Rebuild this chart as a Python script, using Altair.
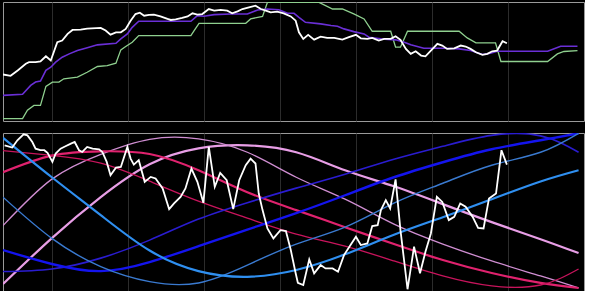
import altair as alt
import pandas as pd

# ---------------- top panel (price + two indicator lines) ----------------
price_t = [0, 1.4, 2.7, 4.2, 4.8, 6.0, 6.9, 7.9, 8.8, 10.0, 10.9, 11.9, 12.8, 14.3, 15.5, 18.0, 18.9,
           19.8, 20.8, 21.7, 22.6, 23.5, 24.4, 25.2, 26.0, 26.9, 27.8, 29.0, 30.3, 30.9, 31.8, 33.0,
           34.0, 34.9, 35.8, 36.7, 37.9, 38.9, 40.1, 41.3, 42.2, 43.2, 44.1, 45.3, 46.5, 47.5, 48.4,
           49.3, 50.5, 51.7, 53.0, 53.9, 54.5, 55.3, 56.2, 57.3, 58.5, 59.7, 61.0, 62.5, 63.7, 65.0,
           65.9, 67.1, 68.0, 69.2, 70.2, 71.4, 72.3, 73.2, 74.2, 75.1, 76.0, 77.0, 77.8, 78.8, 80.0,
           80.9, 81.8, 83.1, 84.3, 85.2, 86.1, 87.1, 88.3, 89.2, 90.1, 91.0, 92.0, 92.8]
price_v = [39.1, 38.0, 42.5, 48.1, 49.4, 49.4, 50.0, 54.4, 50.8, 66.2, 67.6, 73.2, 76.5, 76.8, 77.6, 78.2,
           76.0, 72.6, 74.5, 74.5, 77.4, 84.3, 89.9, 91.0, 88.5, 89.1, 89.4, 87.9, 85.8, 84.9, 85.4,
           86.6, 87.9, 90.5, 89.4, 89.9, 94.1, 92.7, 93.3, 92.7, 90.5, 92.1, 94.1, 95.5, 96.9, 94.1,
           92.7, 91.3, 91.9, 90.5, 87.9, 84.3, 74.5, 69.0, 72.4, 68.4, 70.9, 69.8, 69.8, 68.4, 70.4,
           72.4, 69.5, 69.0, 69.8, 67.6, 69.0, 69.0, 71.2, 68.2, 60.6, 56.4, 58.6, 55.0, 54.4, 59.2,
           64.8, 63.4, 60.6, 61.1, 63.4, 62.6, 60.6, 57.8, 55.6, 56.4, 58.6, 59.2, 67.0, 65.3]

base_t = [0, 3.6, 5.1, 6.0, 6.9, 7.9, 8.8, 9.7, 10.9, 12.2, 13.7, 15.2, 17.4, 20.8, 21.7, 22.9, 23.8,
          25.0, 34.6, 35.8, 37.0, 38.9, 41.9, 45.0, 46.9, 48.7, 50.8, 52.4, 53.6, 54.5, 55.7, 58.5,
          60.4, 61.6, 62.8, 64.6, 66.5, 67.4, 69.6, 72.3, 73.9, 75.1, 77.5, 81.2, 84.0, 86.1, 88.3,
          89.8, 91.0, 100.3, 102.7, 105.8]
base_v = [21.5, 22.4, 29.9, 32.7, 33.5, 42.5, 45.2, 49.4, 53.6, 56.4, 59.2, 61.1, 64.0, 65.3, 69.0,
          73.2, 78.7, 83.8, 83.8, 88.5, 88.0, 89.4, 89.9, 89.9, 93.3, 94.1, 93.5, 90.5, 90.5, 87.0,
          82.9, 81.6, 80.2, 79.6, 77.4, 75.1, 73.2, 70.4, 69.0, 68.2, 66.2, 64.0, 61.1, 61.1, 60.6,
          59.2, 55.9, 56.9, 58.6, 58.6, 62.8, 62.8]

span_t = [0, 3.6, 4.5, 5.7, 6.9, 7.9, 9.1, 10.3, 11.2, 13.7, 15.5, 17.4, 19.2, 20.8, 21.7, 22.6,
          23.8, 25.0, 34.6, 35.2, 36.1, 44.7, 45.6, 47.8, 48.7, 58.2, 60.7, 62.5, 64.6, 66.5, 68.0,
          71.4, 72.3, 73.2, 74.5, 84.0, 85.5, 87.1, 90.7, 91.7, 100.3, 102.1, 103.3, 105.8]
span_v = [2.0, 2.0, 9.0, 13.1, 13.1, 29.1, 32.7, 32.7, 35.5, 36.9, 41.0, 45.8, 46.6, 48.6, 59.8, 62.6,
          66.2, 71.8, 71.8, 76.0, 82.1, 82.1, 85.8, 87.9, 99.7, 99.7, 94.1, 94.1, 90.0, 85.8, 75.4,
          75.4, 62.0, 62.0, 75.4, 75.4, 69.8, 65.7, 65.7, 50.0, 50.0, 56.4, 58.4, 59.2]

# ---------------- bottom panel (oscillator + cycle waves) ----------------
osc_t = [0.3, 1.7, 2.65, 3.8, 4.5, 5.4, 6.0, 6.9, 7.6, 8.2, 9.1, 9.7, 10.6, 11.5, 12.5, 13.2, 14.0,
         14.6, 15.5, 16.5, 17.7, 18.3, 19.1, 19.8, 20.8, 21.7, 22.3, 22.9, 23.5, 24.1, 25.0, 26.1,
         27.2, 28.1, 29.4, 30.6, 31.5, 32.7, 33.6, 34.7, 35.8, 36.9, 37.9, 39.0, 40.0, 41.2, 42.4,
         43.5, 44.7, 45.6, 46.5, 47.1, 47.8, 48.7, 49.8, 51.1, 52.1, 53.0, 53.9, 54.3, 55.3, 56.4,
         57.3, 58.5, 59.4, 60.7, 61.7, 62.8, 64.0, 65.0, 65.9, 67.1, 68.0, 69.0, 69.6, 70.5, 71.3,
         72.3, 73.2, 74.5, 75.7, 76.8, 77.8, 78.8, 79.9, 80.9, 82.1, 83.1, 84.2, 85.2, 86.5, 87.5,
         88.5, 89.5, 90.8, 91.8, 92.8]
osc_v = [92.2, 90.8, 95.4, 99.2, 98.5, 94.3, 90.1, 89.1, 89.1, 87.4, 81.7, 87.0, 90.1, 91.6, 93.3,
         94.3, 89.1, 88.0, 91.2, 90.1, 89.7, 88.0, 81.7, 73.3, 78.1, 78.5, 84.8, 91.2, 83.8, 80.0,
         82.8, 69.1, 72.2, 71.2, 64.9, 51.8, 55.4, 59.6, 64.9, 77.5, 69.1, 55.8, 91.2, 65.9, 74.7,
         70.1, 51.8, 70.1, 79.6, 83.8, 80.7, 61.7, 51.2, 39.6, 33.3, 38.5, 37.9, 25.9, 11.2, 5.2,
         3.8, 20.0, 11.2, 16.4, 14.3, 14.3, 12.2, 22.7, 29.1, 34.3, 29.1, 30.1, 41.1, 41.7, 51.2,
         57.5, 52.2, 70.6, 38.5, 1.1, 28.0, 11.2, 24.8, 36.4, 59.6, 56.4, 44.9, 46.9, 55.4, 53.3,
         46.9, 40.0, 39.6, 58.6, 61.7, 89.1, 80.0]

wave_t = [0, 9, 18, 27, 36, 45, 54, 63, 72, 81, 90, 99, 106]
wave_a = [97.0, 72.0, 48.0, 25.6, 12.6, 9.0, 13.3, 23.2, 35.6, 46.7, 58.1, 69.3, 76.4]
wave_b = [59.4, 33.3, 15.4, 5.9, 5.1, 16.4, 29.7, 40.4, 55.6, 68.2, 79.6, 87.8, 99.8]
wave_c = [25.9, 17.1, 12.6, 18.3, 28.4, 38.9, 49.3, 60.6, 72.0, 81.5, 89.7, 95.4, 99.8]
wave_d = [12.3, 13.9, 20.8, 32.2, 45.5, 55.9, 65.1, 73.9, 83.4, 91.6, 98.5, 98.2, 87.8]
wave_e = [88.8, 85.9, 80.9, 69.5, 56.9, 46.1, 36.0, 28.4, 19.0, 9.5, 3.2, 3.8, 13.9]
wave_f = [75.2, 85.7, 88.4, 86.7, 76.4, 62.5, 51.2, 40.4, 29.7, 19.6, 11.4, 5.1, 1.9]
wave_g = [41.4, 70.8, 86.5, 96.0, 96.3, 87.8, 72.0, 58.1, 42.3, 29.7, 19.0, 9.5, 1.9]
wave_h = [4.4, 33.5, 59.4, 80.2, 90.3, 92.2, 87.8, 76.4, 66.3, 55.0, 43.6, 32.8, 24.0]

grid_ticks = [9, 23, 37, 51, 65, 79, 93]

X_DOMAIN = [0, 107]
W = 581


def line(t, v, color, width, interp="linear"):
    df = pd.DataFrame({"t": t, "v": v})
    return alt.Chart(df).mark_line(color=color, strokeWidth=width, interpolate=interp, clip=True).encode(
        x=alt.X("t:Q", scale=alt.Scale(domain=X_DOMAIN, nice=False, zero=False),
                axis=alt.Axis(values=grid_ticks, grid=True, gridColor="#2c2c2c", gridWidth=1,
                              labels=False, ticks=False, domain=False, title=None)),
        y=alt.Y("v:Q", scale=alt.Scale(domain=[0, 100], nice=False, zero=False), axis=None),
    )


top = alt.layer(
    line(span_t, span_v, "#8fd08f", 1.3),
    line(base_t, base_v, "#6a2fd6", 1.6),
    line(price_t, price_v, "#ffffff", 1.8),
).properties(width=W, height=119)

waves = [
    (wave_h, "#e89ee6", 2.2),
    (wave_g, "#d08ed2", 1.3),
    (wave_f, "#e0226e", 2.2),
    (wave_e, "#c8145c", 1.3),
    (wave_d, "#2a1cd0", 1.6),
    (wave_c, "#1414ee", 2.4),
    (wave_b, "#3a7ad0", 1.4),
    (wave_a, "#2f8ff0", 2.2),
]
bottom_layers = [line(wave_t, w, c, sw, "natural") for w, c, sw in waves]
bottom_layers.append(line(osc_t, osc_v, "#ffffff", 1.8))
bottom = alt.layer(*bottom_layers).properties(width=W, height=158)

chart = alt.vconcat(top, bottom, spacing=10).properties(
    background="#000000",
    padding={"left": 2, "top": 1, "right": 0, "bottom": 0},
).configure_view(stroke="#9a9a9a", strokeWidth=1)

chart.save("out.html", embed_options={"renderer": "svg", "actions": False})
